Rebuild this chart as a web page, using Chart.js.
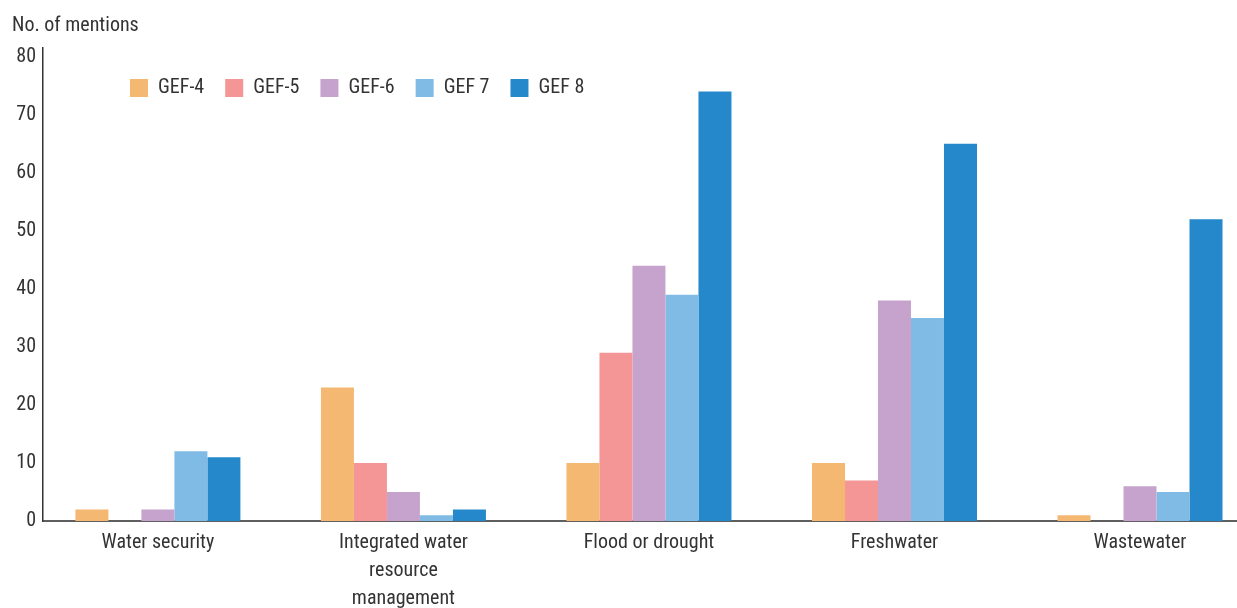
<!DOCTYPE html>
<html>
<head>
<meta charset="utf-8">
<script src="https://cdn.jsdelivr.net/npm/chart.js@4/dist/chart.umd.min.js"></script>
<style>
  html, body { margin: 0; padding: 0; background: #fff; }
  #wrap { width: 1237px; height: 608px; position: relative; }
</style>
</head>
<body>
<div id="wrap"><canvas id="chart_gefWaterMentions"></canvas></div>
<script>
// categories and counts per GEF period
var categories = ['Water security', ['Integrated water', 'resource', 'management'], 'Flood or drought', 'Freshwater', 'Wastewater'];
var seriesNames = ['GEF-4', 'GEF-5', 'GEF-6', 'GEF 7', 'GEF 8'];
var gef4 = [2, 23, 10, 10, 1];
var gef5 = [0, 10, 29, 7, 0];
var gef6 = [2, 5, 44, 38, 6];
var gef7 = [12, 1, 39, 35, 5];
var gef8 = [11, 2, 74, 65, 52];
var yTicks = [0, 10, 20, 30, 40, 50, 60, 70, 80];

var seriesValues = [gef4, gef5, gef6, gef7, gef8];
var seriesColors = ['#F4B872', '#F49596', '#C6A3CD', '#80BBE6', '#2488CB'];
var fontFamily = '"Liberation Sans Narrow", "Roboto Condensed", "DejaVu Sans Condensed", sans-serif';

var datasets = seriesNames.map(function(name, i) {
    return {
        label: name,
        backgroundColor: seriesColors[i],
        borderWidth: 0,
        barPercentage: 1,
        categoryPercentage: 0.672,
        data: seriesValues[i].map(function(v, j) { return {x: j, y: v}; })
    };
});

var chart_gefWaterMentions = new Chart(document.getElementById('chart_gefWaterMentions'), {
    type: 'bar',
    data: { datasets: datasets },
    options: {
        animation: false,
        responsive: true,
        maintainAspectRatio: false,
        layout: { padding: { left: 12, right: 0, top: 0, bottom: 0 } },
        plugins: {
            title: {
                display: true,
                text: 'No. of mentions',
                align: 'start',
                color: '#333',
                font: { family: fontFamily, size: 20, weight: 'normal' },
                padding: { top: 14, bottom: 10 }
            },
            legend: {
                position: 'top',
                align: 'start',
                maxHeight: 0.01,
                labels: {
                    boxWidth: 18,
                    boxHeight: 18,
                    padding: 21,
                    color: '#333',
                    font: { family: fontFamily, size: 20 }
                }
            },
            tooltip: { enabled: false }
        },
        scales: {
            x: {
                type: 'linear',
                min: -0.468,
                max: 4.395,
                offset: false,
                grid: { display: false, drawTicks: false },
                border: { display: true, color: '#5f5f5f', width: 2 },
                afterBuildTicks: function(scale) {
                    scale.ticks = categories.map(function(c, i) { return {value: i}; });
                },
                afterFit: function(scale) { scale.height = 87; },
                ticks: {
                    autoSkip: false,
                    maxRotation: 0,
                    padding: 8,
                    color: '#333',
                    font: { family: fontFamily, size: 20, lineHeight: 1.4 },
                    callback: function(value) { return categories[value]; }
                }
            },
            y: {
                type: 'linear',
                min: 0,
                max: 81.5,
                grid: { display: false, drawTicks: false },
                border: { display: true, color: '#333', width: 1.5 },
                afterBuildTicks: function(scale) {
                    scale.ticks = yTicks.map(function(v) { return {value: v}; });
                },
                afterFit: function(scale) { scale.width = 31; },
                ticks: {
                    padding: 7,
                    color: '#333',
                    font: { family: fontFamily, size: 20 }
                }
            }
        }
    },
    plugins: [{
        // move the legend row down into the plot, as in the original figure
        id: 'shiftLegend',
        afterUpdate: function(chart) {
            var lg = chart.legend;
            if (!lg) return;
            var dx = 130 - (lg.left + 21);
            var dy = 88 - (lg.top + 21 + 10);
            lg.left += dx;
            lg.top += dy;
            lg.right = lg.left + 700;
            lg.bottom = lg.top + 60;
            lg.width = 700;
            lg.height = 60;
            lg.adjustHitBoxes();
        }
    }, {
        id: 'customPlugin',
        beforeDraw: function(chart) {
            var ctx = chart.canvas.getContext('2d');
            ctx.save();
            ctx.globalCompositeOperation = 'destination-over';
            ctx.fillStyle = 'white';
            ctx.fillRect(0, 0, chart.canvas.width, chart.canvas.height);
            ctx.restore();
        }
    }]
});
</script>
</body>
</html>
